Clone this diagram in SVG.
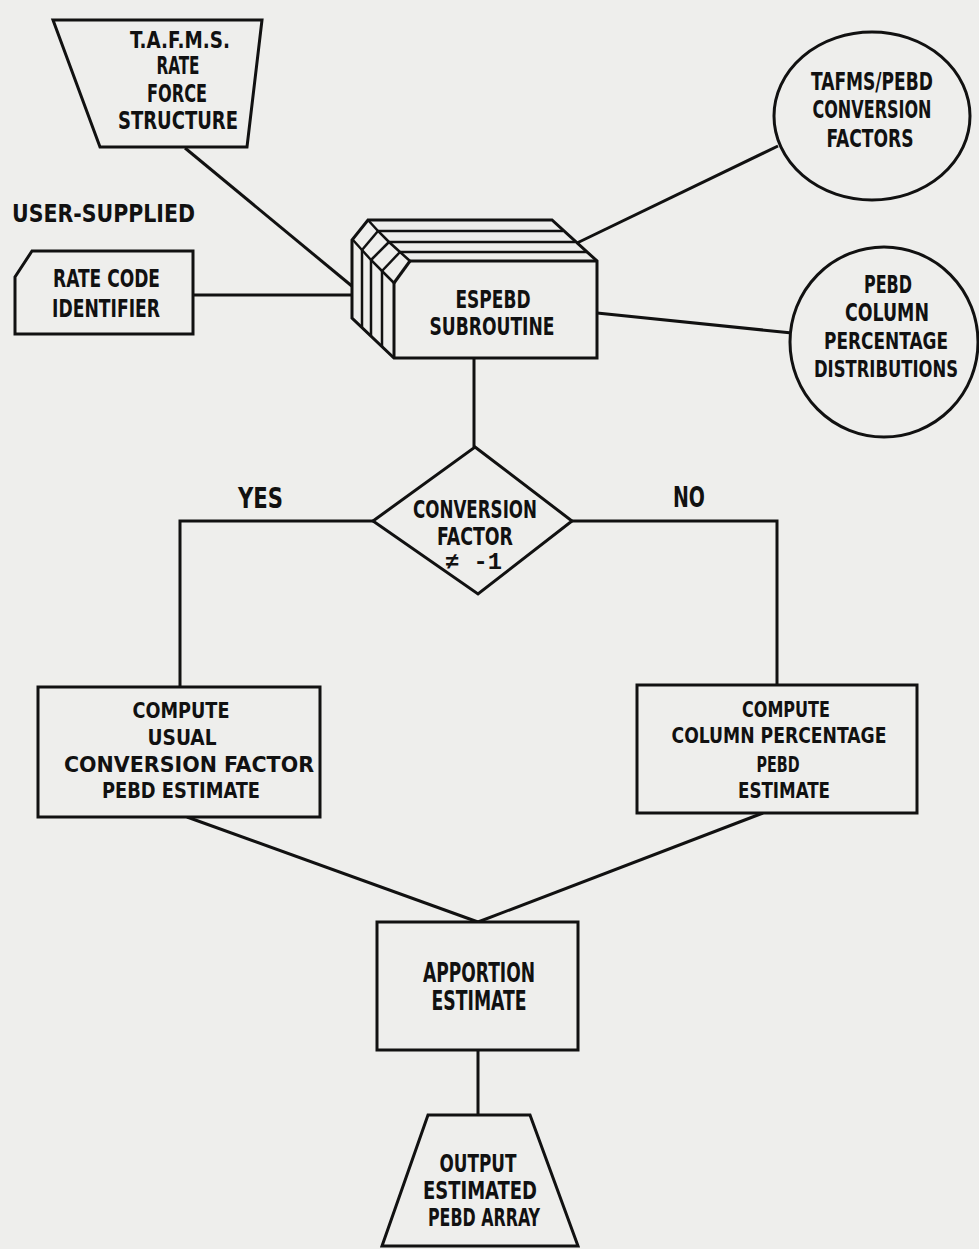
<svg xmlns="http://www.w3.org/2000/svg" width="979" height="1249" viewBox="0 0 979 1249">
<style>
.bg{fill:#eeeeec}
.sh{fill:#eeeeec;stroke:#111;stroke-width:3;stroke-linejoin:miter}
.ln{fill:none;stroke:#111;stroke-width:3;stroke-linecap:butt}
.thin{fill:none;stroke:#111;stroke-width:2.5}
text{font-family:"Liberation Sans Narrow","DejaVu Sans Condensed","Liberation Sans",sans-serif;font-weight:bold;fill:#111;text-anchor:middle}
.mono{font-family:"Liberation Mono","DejaVu Sans Mono",monospace;font-weight:bold}
</style>
<rect class="bg" x="0" y="0" width="979" height="1249"/>

<g id="connectors">
<line class="ln" x1="185" y1="148" x2="353" y2="287"/>
<line class="ln" x1="193" y1="295" x2="352" y2="295"/>
<line class="ln" x1="778" y1="146" x2="577" y2="243"/>
<line class="ln" x1="597" y1="313" x2="792" y2="333"/>
<line class="ln" x1="474" y1="358" x2="474" y2="447"/>
<polyline class="ln" points="373,521 180,521 180,687"/>
<polyline class="ln" points="572,521 777,521 777,685"/>
<line class="ln" x1="187" y1="817" x2="478" y2="922"/>
<line class="ln" x1="763" y1="813" x2="478" y2="922"/>
<line class="ln" x1="478" y1="1050" x2="478" y2="1115"/>
</g>

<g id="label-user-supplied">
<text x="103.5" y="222" font-size="24" textLength="183" lengthAdjust="spacingAndGlyphs">USER-SUPPLIED</text>
</g>

<g id="tafms-input">
<polygon class="sh" points="53,20 262,20 247,147 100,147"/>
<text x="180" y="48" font-size="23" textLength="100" lengthAdjust="spacingAndGlyphs">T.A.F.M.S.</text>
<text x="178" y="74" font-size="24" textLength="43" lengthAdjust="spacingAndGlyphs">RATE</text>
<text x="177" y="102" font-size="24" textLength="60" lengthAdjust="spacingAndGlyphs">FORCE</text>
<text x="178" y="129" font-size="24" textLength="120" lengthAdjust="spacingAndGlyphs">STRUCTURE</text>
</g>

<g id="rate-code">
<polygon class="sh" points="32,251 193,251 193,334 15,334 15,277"/>
<text x="106.5" y="287" font-size="25" textLength="107" lengthAdjust="spacingAndGlyphs">RATE CODE</text>
<text x="106" y="317" font-size="25" textLength="108" lengthAdjust="spacingAndGlyphs">IDENTIFIER</text>
</g>

<g id="espebd">
<polygon class="sh" points="368,220 552,220 597,261 597,358 394,358 352,318 352,240"/>
<polyline class="thin" points="368,220 378,231 389,242 400,252 410,261"/>
<polyline class="thin" points="353,240 362,250 371,260 382,271 394,283"/>
<line class="thin" x1="378" y1="231" x2="362" y2="250"/>
<line class="thin" x1="389" y1="242" x2="371" y2="260"/>
<line class="thin" x1="400" y1="252" x2="382" y2="271"/>
<line class="ln" x1="410" y1="261" x2="394" y2="283"/>
<line class="thin" x1="378" y1="231" x2="563" y2="231"/>
<line class="thin" x1="389" y1="242" x2="575" y2="242"/>
<line class="thin" x1="400" y1="252" x2="587" y2="252"/>
<line class="ln" x1="410" y1="261" x2="597" y2="261"/>
<line class="ln" x1="394" y1="283" x2="394" y2="358"/>
<line class="thin" x1="362" y1="250" x2="362" y2="327"/>
<line class="thin" x1="371" y1="260" x2="371" y2="336"/>
<line class="thin" x1="382" y1="271" x2="382" y2="347"/>
<text x="493" y="308" font-size="25" textLength="75" lengthAdjust="spacingAndGlyphs">ESPEBD</text>
<text x="492" y="335" font-size="25" textLength="125" lengthAdjust="spacingAndGlyphs">SUBROUTINE</text>
</g>

<g id="tafms-pebd-factors">
<ellipse class="sh" cx="872" cy="116" rx="98" ry="84"/>
<text x="872" y="90" font-size="25" textLength="122" lengthAdjust="spacingAndGlyphs">TAFMS/PEBD</text>
<text x="872" y="118" font-size="25" textLength="119" lengthAdjust="spacingAndGlyphs">CONVERSION</text>
<text x="870" y="147" font-size="25" textLength="87" lengthAdjust="spacingAndGlyphs">FACTORS</text>
</g>

<g id="pebd-distributions">
<ellipse class="sh" cx="884" cy="342" rx="94" ry="95"/>
<text x="888" y="293" font-size="24" textLength="48" lengthAdjust="spacingAndGlyphs">PEBD</text>
<text x="887" y="321" font-size="24" textLength="84" lengthAdjust="spacingAndGlyphs">COLUMN</text>
<text x="886" y="349" font-size="23" textLength="124" lengthAdjust="spacingAndGlyphs">PERCENTAGE</text>
<text x="886" y="377" font-size="23" textLength="144" lengthAdjust="spacingAndGlyphs">DISTRIBUTIONS</text>
</g>

<g id="decision">
<polygon class="sh" points="475,447 572,521 478,594 373,521"/>
<text x="475" y="518" font-size="25" textLength="124" lengthAdjust="spacingAndGlyphs">CONVERSION</text>
<text x="475" y="545" font-size="25" textLength="76" lengthAdjust="spacingAndGlyphs">FACTOR</text>
<text class="mono" x="473.5" y="569" font-size="23" textLength="57" lengthAdjust="spacingAndGlyphs">≠ -1</text>
</g>

<g id="label-yes">
<text x="260.5" y="508" font-size="29" textLength="45" lengthAdjust="spacingAndGlyphs">YES</text>
</g>
<g id="label-no">
<text x="689" y="507" font-size="29" textLength="32" lengthAdjust="spacingAndGlyphs">NO</text>
</g>

<g id="compute-usual">
<rect class="sh" x="38" y="687" width="282" height="130"/>
<text x="181" y="718" font-size="22" textLength="97" lengthAdjust="spacingAndGlyphs">COMPUTE</text>
<text x="182" y="745" font-size="22" textLength="69" lengthAdjust="spacingAndGlyphs">USUAL</text>
<text x="189" y="772" font-size="22" textLength="250" lengthAdjust="spacingAndGlyphs">CONVERSION FACTOR</text>
<text x="181" y="798" font-size="22" textLength="158" lengthAdjust="spacingAndGlyphs">PEBD ESTIMATE</text>
</g>

<g id="compute-column">
<rect class="sh" x="637" y="685" width="280" height="128"/>
<text x="786" y="717" font-size="21" textLength="88" lengthAdjust="spacingAndGlyphs">COMPUTE</text>
<text x="779" y="743" font-size="21" textLength="215" lengthAdjust="spacingAndGlyphs">COLUMN PERCENTAGE</text>
<text x="778" y="772" font-size="21" textLength="43" lengthAdjust="spacingAndGlyphs">PEBD</text>
<text x="784" y="798" font-size="21" textLength="92" lengthAdjust="spacingAndGlyphs">ESTIMATE</text>
</g>

<g id="apportion">
<rect class="sh" x="377" y="922" width="201" height="128"/>
<text x="479" y="982" font-size="27" textLength="112" lengthAdjust="spacingAndGlyphs">APPORTION</text>
<text x="479" y="1010" font-size="27" textLength="95" lengthAdjust="spacingAndGlyphs">ESTIMATE</text>
</g>

<g id="output">
<polygon class="sh" points="428,1115 530,1115 578,1246 382,1246"/>
<text x="478" y="1172" font-size="25" textLength="77" lengthAdjust="spacingAndGlyphs">OUTPUT</text>
<text x="480" y="1199" font-size="24" textLength="114" lengthAdjust="spacingAndGlyphs">ESTIMATED</text>
<text x="484" y="1226" font-size="24" textLength="112" lengthAdjust="spacingAndGlyphs">PEBD ARRAY</text>
</g>
</svg>
